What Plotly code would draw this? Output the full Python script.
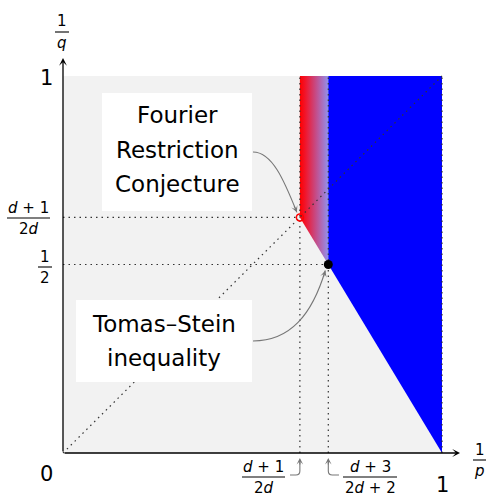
import plotly.graph_objects as go

# ---------------- data (d = 4) ----------------
d = 4
restriction_point = (0.625, 0.625)      # ((d+1)/(2d), (d+1)/(2d))
tomas_stein_point = (0.7, 0.5)          # ((d+3)/(2d+2), 1/2)
square_x = [0, 1, 1, 0]
square_y = [0, 0, 1, 1]
conj_region_x = [0.625, 0.625, 0.7, 0.7]
conj_region_y = [0.625, 1.0, 1.0, 0.5]
known_region_x = [0.7, 1.0, 1.0, 0.7]
known_region_y = [1.0, 1.0, 0.0, 0.5]
callout_texts = [["Fourier", "Restriction", "Conjecture"], ["Tomas–Stein", "inequality"]]

# ---------------- layout geometry ----------------
W, H = 488, 496
X0_PX, X1_PX = 63, 442
Y0_PX, Y1_PX = 453, 76
sx = X1_PX - X0_PX
sy = Y0_PX - Y1_PX
xrange_ = [(0 - X0_PX) / sx, (W - X0_PX) / sx]
yrange_ = [(Y0_PX - H) / sy, Y0_PX / sy]

def to_px(x, y):
    return X0_PX + x * sx, Y0_PX - y * sy

def px(x):
    return (x - X0_PX) / sx

def py(y):
    return (Y0_PX - y) / sy

FONT = "DejaVu Sans"
DOT = "1.5px,4px"
GRAY = "#777777"

fig = go.Figure()

# light gray square
fig.add_trace(go.Scatter(x=square_x, y=square_y, fill="toself", mode="lines",
                         line=dict(width=0), fillcolor="#f2f2f2", hoverinfo="skip"))
# conjecture region (gradient)
fig.add_trace(go.Scatter(x=conj_region_x, y=conj_region_y, fill="toself", mode="lines",
                         line=dict(width=0),
                         fillgradient=dict(type="horizontal",
                                           colorscale=[[0, "rgb(255,0,0)"],
                                                       [0.2, "rgb(240,22,45)"],
                                                       [0.6, "rgb(192,82,145)"],
                                                       [1, "rgb(145,145,238)"]]),
                         hoverinfo="skip"))
# known region (blue)
fig.add_trace(go.Scatter(x=known_region_x, y=known_region_y, fill="toself", mode="lines",
                         line=dict(width=0), fillcolor="#0000ff", hoverinfo="skip"))

rx, ry = restriction_point
tx, ty = tomas_stein_point
dotted = [
    ([0, 1], [0, 1]),
    ([0, rx], [ry, ry]),
    ([0, tx], [ty, ty]),
    ([rx, rx], [0, 1]),
    ([tx, tx], [0, 1]),
    ([1, 1], [0, 1]),
]
for xs, ys in dotted:
    fig.add_trace(go.Scatter(x=xs, y=ys, mode="lines",
                             line=dict(color="#333333", width=1.2, dash=DOT),
                             hoverinfo="skip"))

fig.add_trace(go.Scatter(x=[rx], y=[ry], mode="markers",
                         marker=dict(symbol="circle-open", size=7, color="red",
                                     line=dict(width=1.5, color="red")), hoverinfo="skip"))
fig.add_trace(go.Scatter(x=[tx], y=[ty], mode="markers",
                         marker=dict(symbol="circle", size=9, color="black"), hoverinfo="skip"))

shapes = []
annotations = []

def P(xp, yp):
    return xp / W, 1 - yp / H

# axes arrows
annotations.append(dict(x=0, y=py(58), ax=0, ay=0, xref="x", yref="y", axref="x", ayref="y",
                        text="", showarrow=True, arrowhead=3, arrowsize=1.0, arrowwidth=1.3,
                        arrowcolor="black", standoff=0))
annotations.append(dict(x=px(460), y=0, ax=0, ay=0, xref="x", yref="y", axref="x", ayref="y",
                        text="", showarrow=True, arrowhead=3, arrowsize=1.0, arrowwidth=1.3,
                        arrowcolor="black", standoff=0))

# callout boxes
boxes = [(102, 93, 252, 211), (76, 300, 252, 382)]
for (x0, y0, x1, y1) in boxes:
    a0 = P(x0, y1)
    a1 = P(x1, y0)
    shapes.append(dict(type="rect", xref="paper", yref="paper", x0=a0[0], y0=a0[1],
                       x1=a1[0], y1=a1[1], fillcolor="white", line=dict(width=0), layer="above"))

def text_line(t, xc, baseline, size=23):
    xx, yy = P(xc, baseline - 0.346 * size)
    annotations.append(dict(x=xx, y=yy, xref="paper", yref="paper", text=t, showarrow=False,
                            font=dict(family=FONT, size=size, color="black"),
                            xanchor="center", yanchor="middle"))

for t, b in zip(callout_texts[0], [123, 158, 192]):
    text_line(t, 177, b)
for t, b in zip(callout_texts[1], [332, 366]):
    text_line(t, 164, b)

# curved callout arrows
def add_curve(path_pts, tip, back):
    pth = ""
    for cmd, pts in path_pts:
        pth += cmd + " " + " ".join("%.5f,%.5f" % P(a, b) for a, b in pts) + " "
    shapes.append(dict(type="path", xref="paper", yref="paper", path=pth.strip(),
                       line=dict(color=GRAY, width=1.1), layer="above"))
    hx, hy = P(*tip)
    annotations.append(dict(x=hx, y=hy, ax=back[0] - tip[0], ay=back[1] - tip[1],
                            xref="paper", yref="paper", axref="pixel", ayref="pixel",
                            text="", showarrow=True,
                            arrowhead=3, arrowsize=1.0, arrowwidth=1.1, arrowcolor=GRAY,
                            standoff=0))

rpx, rpy = to_px(rx, ry)
tpx, tpy = to_px(tx, ty)
x1px, _ = to_px(rx, 0)
x2px, _ = to_px(tx, 0)

tip = (rpx - 3, rpy - 5)
add_curve([("M", [(253, 152)]), ("C", [(272, 152), (284, 180), tip])], tip, (tip[0] - 3.3, tip[1] - 8))
tip = (tpx - 3, tpy + 6)
add_curve([("M", [(253, 341)]), ("C", [(290, 341), (312, 315), tip])], tip, (tip[0] - 2.3, tip[1] + 8))
tip = (x1px, 458)
add_curve([("M", [(290, 475)]), ("L", [(x1px - 4, 475)]), ("Q", [(x1px, 475), (x1px, 471)]),
           ("L", [(x1px, 460)])], tip, (x1px, 466))
tip = (x2px, 458)
add_curve([("M", [(339, 475)]), ("L", [(x2px + 4, 475)]), ("Q", [(x2px, 475), (x2px, 471)]),
           ("L", [(x2px, 460)])], tip, (x2px, 466))

# simple labels
def label(t, xc, yc, size=21):
    xx, yy = P(xc, yc)
    annotations.append(dict(x=xx, y=yy, xref="paper", yref="paper", text=t, showarrow=False,
                            font=dict(family=FONT, size=size, color="black"),
                            xanchor="center", yanchor="middle"))

label("1", 46, 78)
label("0", 46, 474)
label("1", 442, 485)

# fractions
def fraction(num, den, xc, bar_y, bx0, bx1, size=15):
    a0 = P(bx0, bar_y)
    a1 = P(bx1, bar_y)
    shapes.append(dict(type="line", xref="paper", yref="paper", x0=a0[0], y0=a0[1],
                       x1=a1[0], y1=a1[1], line=dict(color="black", width=1.1), layer="above"))
    xx, yy = P(xc, bar_y - 0.5)
    annotations.append(dict(x=xx, y=yy, xref="paper", yref="paper", text=num, showarrow=False,
                            font=dict(family=FONT, size=size, color="black"),
                            xanchor="center", yanchor="bottom", borderpad=0))
    xx, yy = P(xc, bar_y + 0.5)
    annotations.append(dict(x=xx, y=yy, xref="paper", yref="paper", text=den, showarrow=False,
                            font=dict(family=FONT, size=size, color="black"),
                            xanchor="center", yanchor="top", borderpad=0))

fraction("1", "<i>q</i>", 62, 32, 55, 69)
fraction("1", "<i>p</i>", 479.5, 460, 473, 486)
fraction("<i>d</i> + 1", "2<i>d</i>", 28.5, 218, 7, 50)
fraction("1", "2", 45, 267, 38, 52)
fraction("<i>d</i> + 1", "2<i>d</i>", 263.5, 477, 242, 285)
fraction("<i>d</i> + 3", "2<i>d</i> + 2", 370, 477, 343, 397)

fig.update_layout(
    width=W, height=H, margin=dict(l=0, r=0, t=0, b=0),
    paper_bgcolor="white", plot_bgcolor="white", showlegend=False,
    xaxis=dict(range=xrange_, visible=False, fixedrange=True),
    yaxis=dict(range=yrange_, visible=False, fixedrange=True),
    shapes=shapes, annotations=annotations,
)

fig.write_html(
    "out.html",
    config={"displayModeBar": False, "responsive": False},
    post_script="document.body.style.margin='0';document.body.style.overflow='hidden';",
)
